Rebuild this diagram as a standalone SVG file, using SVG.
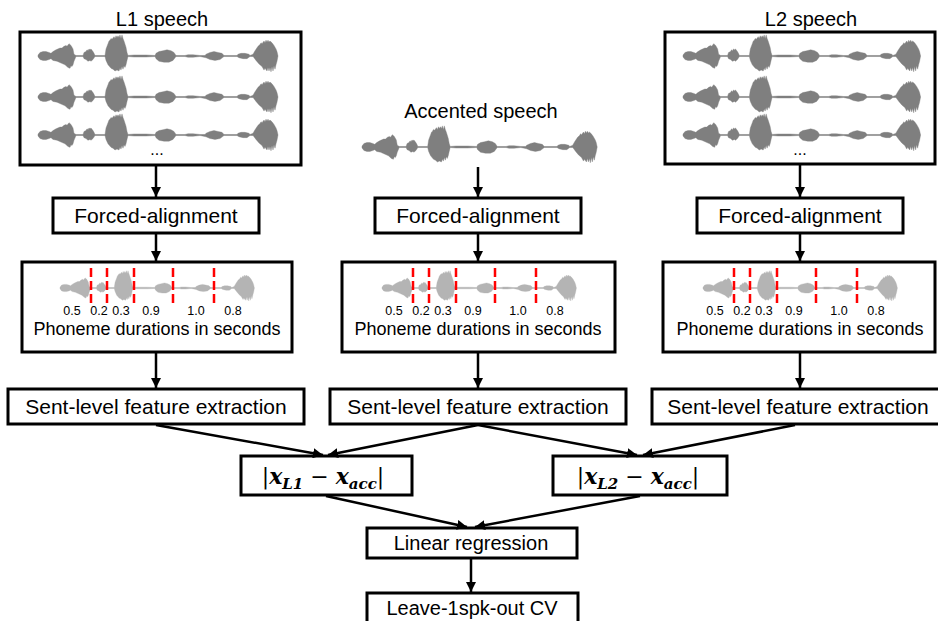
<svg xmlns="http://www.w3.org/2000/svg" xmlns:xlink="http://www.w3.org/1999/xlink" width="938" height="621" viewBox="0 0 938 621">
  <style>
    .box { fill: #ffffff; stroke: #000000; stroke-width: 3; }
    .lbl { font-family: "Liberation Sans", Arial, sans-serif; fill: #000000; text-anchor: middle; }
    .t20 { font-size: 20px; }
    .t21 { font-size: 21px; }
    .t18 { font-size: 18px; }
    .num { font-family: "Liberation Sans", Arial, sans-serif; font-size: 12.5px; fill: #000000; text-anchor: middle; }
    .math { font-family: "DejaVu Serif", "Liberation Serif", serif; font-size: 22px; fill: #000000; text-anchor: middle; }
    .mi { font-style: italic; font-weight: bold; }
    .conn { stroke: #000000; stroke-width: 2.5; fill: none; marker-end: url(#ah); }
    .cut { stroke: #ff0000; stroke-width: 2.5; stroke-dasharray: 9 4; }
    .wave { fill: #7f7f7f; stroke: #7f7f7f; stroke-width: 0.4; }
    .wave-lt { fill: #b4b4b4; stroke: #b4b4b4; stroke-width: 0.4; }
  </style>
  <defs>
    <marker id="ah" markerUnits="userSpaceOnUse" markerWidth="11" markerHeight="10" refX="10" refY="5" orient="auto">
      <path d="M0,0 L10,5 L0,10 Z" fill="#000000"/>
    </marker>
    <!-- one utterance envelope, 240 units long, centred on y=0 -->
    <symbol id="wf" overflow="visible">
      <path fill="none" d="M0,0 H240"/>
      <path d="M0,0 L0,-1 L2,-4 L5,-5 L8,-5 L11,-4 L13,-3 L15,-5 L18,-7 L22,-9 L24,-9 L26,-11 L28,-12 L29,-11 L31,-14 L33,-12 L35,-8 L36,-2 L38,-0.6 L45,-0.6 L46,-4 L48,-5 L49,-7 L50,-6 L51,-8 L52,-7 L53,-8 L55,-5 L56,-3 L57,-0.6 L67,-0.6 L68,-8 L70,-14 L71,-17 L72,-18 L73,-20 L74,-19 L76,-22 L77,-20 L78,-23 L79,-21 L80,-23 L81,-21 L82,-24 L83,-20 L84,-24 L85,-20 L86,-17 L88,-10 L89,-4 L90,-0.6 L96,-1.2 L108,-1.2 L117,-0.6 L118,-3 L121,-5 L125,-6 L129,-7 L133,-6 L136,-4 L138,-0.6 L147,-0.6 L150,-1.5 L155,-1.5 L162,-0.6 L167,-0.6 L168,-2 L172,-4 L176,-5 L180,-4 L184,-3 L186,-0.6 L199,-0.6 L200,-2 L203,-3 L207,-3 L211,-2 L212,-0.6 L215,-2 L217,-6 L220,-11 L222,-13 L223,-15 L224,-14 L226,-17 L227,-15 L228,-18 L229,-16 L230,-18 L231,-16 L232,-17 L234,-15 L236,-12 L238,-8 L239,-5 L240,0 L239,6 L238,10 L237,15 L236,11 L235,17 L234,12 L233,18 L232,13 L231,17 L230,13 L229,17 L227,14 L226,16 L224,12 L221,9 L218,5 L216,2 L215,0.6 L212,0.6 L209,3 L205,3 L201,2 L199,0.6 L186,0.6 L182,4 L177,5 L172,4 L168,2 L162,0.6 L155,1.5 L150,1.5 L147,0.6 L138,0.6 L135,5 L131,7 L126,7 L121,6 L118,3 L117,0.6 L108,1.2 L96,1.2 L90,0.6 L89,5 L88,10 L87,13 L86,11 L85,15 L84,12 L83,16 L82,14 L81,17 L79,16 L77,17 L75,15 L73,14 L70,10 L68,5 L67,0.6 L57,0.6 L55,4 L53,6 L52,5 L50,6 L48,4 L46,3 L45,0.6 L38,0.6 L36,6 L35,10 L34,12 L33,11 L32,14 L30,13 L27,10 L23,8 L19,6 L15,5 L13,3 L11,4 L8,5 L5,5 L2,4 L0,1 Z"/>
    </symbol>
  </defs>

  <!-- L1 speech corpus -->
  <g id="l1-speech">
    <text class="lbl t20" x="162" y="26">L1 speech</text>
    <rect class="box" x="20" y="32" width="281" height="133"/>
    <use xlink:href="#wf" class="wave" transform="translate(38,56) scale(1,0.88)"/>
    <use xlink:href="#wf" class="wave" transform="translate(38,97) scale(1,0.88)"/>
    <use xlink:href="#wf" class="wave" transform="translate(38,135) scale(1,0.88)"/>
    <text class="lbl" x="157" y="155" font-size="16">...</text>
  </g>

  <!-- accented utterance -->
  <g id="accented-speech">
    <text class="lbl t20" x="481" y="118">Accented speech</text>
    <use xlink:href="#wf" class="wave" transform="translate(362,147) scale(0.98,0.88)"/>
  </g>

  <!-- L2 speech corpus -->
  <g id="l2-speech">
    <text class="lbl t20" x="811" y="26">L2 speech</text>
    <rect class="box" x="665" y="32" width="270" height="132"/>
    <use xlink:href="#wf" class="wave" transform="translate(683,56) scale(0.99,0.88)"/>
    <use xlink:href="#wf" class="wave" transform="translate(683,97) scale(0.99,0.88)"/>
    <use xlink:href="#wf" class="wave" transform="translate(683,135) scale(0.99,0.88)"/>
    <text class="lbl" x="800" y="155" font-size="16">...</text>
  </g>

  <!-- forced alignment -->
  <g id="fa-l1">
    <rect class="box" x="53" y="198" width="206" height="35"/>
    <text class="lbl t21" x="156" y="223">Forced-alignment</text>
  </g>
  <g id="fa-acc">
    <rect class="box" x="375" y="198" width="206" height="35"/>
    <text class="lbl t21" x="478" y="223">Forced-alignment</text>
  </g>
  <g id="fa-l2">
    <rect class="box" x="697" y="198" width="206" height="35"/>
    <text class="lbl t21" x="800" y="223">Forced-alignment</text>
  </g>

  <!-- phoneme duration panels -->
  <g id="dur-l1">
    <rect class="box" x="22" y="262" width="270" height="90"/>
    <use xlink:href="#wf" class="wave-lt" transform="translate(60,288) scale(0.81,0.72)"/>
    <g class="cut">
      <line x1="91" y1="268" x2="91" y2="304"/>
      <line x1="107" y1="268" x2="107" y2="304"/>
      <line x1="134" y1="268" x2="134" y2="304"/>
      <line x1="173" y1="268" x2="173" y2="304"/>
      <line x1="214" y1="268" x2="214" y2="304"/>
    </g>
    <text class="num" x="72" y="315">0.5</text>
    <text class="num" x="99" y="315">0.2</text>
    <text class="num" x="121" y="315">0.3</text>
    <text class="num" x="151" y="315">0.9</text>
    <text class="num" x="196" y="315">1.0</text>
    <text class="num" x="233" y="315">0.8</text>
    <text class="lbl t18" x="157" y="335">Phoneme durations in seconds</text>
  </g>
  <g id="dur-acc">
    <rect class="box" x="342" y="262" width="273" height="90"/>
    <use xlink:href="#wf" class="wave-lt" transform="translate(382,288) scale(0.81,0.72)"/>
    <g class="cut">
      <line x1="413" y1="268" x2="413" y2="304"/>
      <line x1="429" y1="268" x2="429" y2="304"/>
      <line x1="456" y1="268" x2="456" y2="304"/>
      <line x1="495" y1="268" x2="495" y2="304"/>
      <line x1="536" y1="268" x2="536" y2="304"/>
    </g>
    <text class="num" x="394" y="315">0.5</text>
    <text class="num" x="421" y="315">0.2</text>
    <text class="num" x="443" y="315">0.3</text>
    <text class="num" x="473" y="315">0.9</text>
    <text class="num" x="518" y="315">1.0</text>
    <text class="num" x="555" y="315">0.8</text>
    <text class="lbl t18" x="478" y="335">Phoneme durations in seconds</text>
  </g>
  <g id="dur-l2">
    <rect class="box" x="663" y="262" width="272" height="90"/>
    <use xlink:href="#wf" class="wave-lt" transform="translate(703,288) scale(0.81,0.72)"/>
    <g class="cut">
      <line x1="734" y1="268" x2="734" y2="304"/>
      <line x1="750" y1="268" x2="750" y2="304"/>
      <line x1="777" y1="268" x2="777" y2="304"/>
      <line x1="816" y1="268" x2="816" y2="304"/>
      <line x1="857" y1="268" x2="857" y2="304"/>
    </g>
    <text class="num" x="715" y="315">0.5</text>
    <text class="num" x="742" y="315">0.2</text>
    <text class="num" x="764" y="315">0.3</text>
    <text class="num" x="794" y="315">0.9</text>
    <text class="num" x="839" y="315">1.0</text>
    <text class="num" x="876" y="315">0.8</text>
    <text class="lbl t18" x="800" y="335">Phoneme durations in seconds</text>
  </g>

  <!-- sentence-level features -->
  <g id="feat-l1">
    <rect class="box" x="8" y="389" width="296" height="35"/>
    <text class="lbl t21" x="156" y="414">Sent-level feature extraction</text>
  </g>
  <g id="feat-acc">
    <rect class="box" x="330" y="389" width="296" height="35"/>
    <text class="lbl t21" x="478" y="414">Sent-level feature extraction</text>
  </g>
  <g id="feat-l2">
    <rect class="box" x="652" y="389" width="296" height="35"/>
    <text class="lbl t21" x="798" y="414">Sent-level feature extraction</text>
  </g>

  <!-- absolute feature differences -->
  <g id="diff-l1">
    <rect class="box" x="241" y="456" width="171" height="39"/>
    <text class="math" x="323" y="484">|<tspan class="mi">x</tspan><tspan class="mi" font-size="15" dy="5">L1</tspan><tspan dy="-5"> − </tspan><tspan class="mi">x</tspan><tspan class="mi" font-size="15" dy="5">acc</tspan><tspan dy="-5">|</tspan></text>
  </g>
  <g id="diff-l2">
    <rect class="box" x="553" y="456" width="174" height="39"/>
    <text class="math" x="638" y="484">|<tspan class="mi">x</tspan><tspan class="mi" font-size="15" dy="5">L2</tspan><tspan dy="-5"> − </tspan><tspan class="mi">x</tspan><tspan class="mi" font-size="15" dy="5">acc</tspan><tspan dy="-5">|</tspan></text>
  </g>

  <!-- model and evaluation -->
  <g id="regression">
    <rect class="box" x="367" y="528" width="210" height="30"/>
    <text class="lbl t20" x="471" y="550">Linear regression</text>
  </g>
  <g id="cv">
    <rect class="box" x="367" y="593" width="211" height="36"/>
    <text class="lbl t20" x="472" y="615">Leave-1spk-out CV</text>
  </g>

  <!-- connectors -->
  <g id="connectors">
    <line class="conn" x1="156" y1="166" x2="156" y2="197"/>
    <line class="conn" x1="156" y1="234" x2="156" y2="261"/>
    <line class="conn" x1="156" y1="353" x2="156" y2="388"/>
    <line class="conn" x1="478" y1="167" x2="478" y2="197"/>
    <line class="conn" x1="478" y1="234" x2="478" y2="261"/>
    <line class="conn" x1="478" y1="353" x2="478" y2="388"/>
    <line class="conn" x1="800" y1="165" x2="800" y2="197"/>
    <line class="conn" x1="800" y1="234" x2="800" y2="261"/>
    <line class="conn" x1="800" y1="353" x2="800" y2="388"/>
    <line class="conn" x1="156" y1="425" x2="323" y2="455"/>
    <line class="conn" x1="478" y1="425" x2="328" y2="455"/>
    <line class="conn" x1="478" y1="425" x2="637" y2="455"/>
    <line class="conn" x1="795" y1="425" x2="643" y2="455"/>
    <line class="conn" x1="326" y1="496" x2="467" y2="527"/>
    <line class="conn" x1="640" y1="496" x2="475" y2="527"/>
    <line class="conn" x1="471" y1="559" x2="471" y2="592"/>
  </g>
</svg>
